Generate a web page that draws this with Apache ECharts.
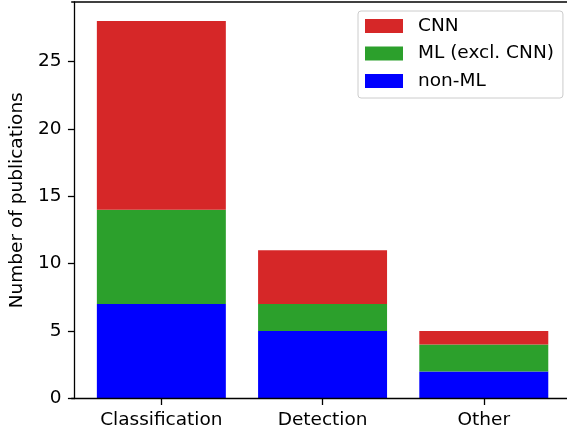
<!DOCTYPE html>
<html>
<head>
<meta charset="utf-8">
<script src="https://cdn.jsdelivr.net/npm/echarts@6/dist/echarts.min.js"></script>
<style>
  html, body { margin: 0; padding: 0; background: #fff; }
  #chart { width: 567px; height: 434px; }
</style>
</head>
<body>
<div id="chart"></div>
<script>
// Publications per task, split by method family
const categories = ['Classification', 'Detection', 'Other'];
const nonML = [7, 5, 2];
const mlExclCNN = [7, 2, 2];
const cnn = [14, 4, 1];
const yTicks = [0, 5, 10, 15, 20, 25];

const FONT = 'DejaVu Sans';
const FS = 18.5;
const LINE_W = 1.3;
// one category band = 162.3 px; bars fill 80% of it
const band = 162.3;
const gridLeft = 77.5, gridTop = 2, gridHeight = 396.5;
const gridWidth = band * categories.length;
const spineLeft = 71.2;               // left spine sits a little outside the first band
const spineBottom = gridTop + gridHeight;

const chart = echarts.init(document.getElementById('chart'), null, { renderer: 'canvas' });
chart.setOption({
  animation: false,
  backgroundColor: '#ffffff',
  grid: { left: gridLeft, top: gridTop, width: gridWidth, height: gridHeight, show: false },
  legend: {
    data: ['CNN', 'ML (excl. CNN)', 'non-ML'],
    orient: 'vertical',
    left: 358,
    top: 11,
    padding: [5, 9, 7, 7],
    itemWidth: 38,
    itemHeight: 14,
    itemGap: 7.5,
    icon: 'rect',
    backgroundColor: '#ffffff',
    borderColor: '#cccccc',
    borderWidth: 1,
    borderRadius: 3,
    textStyle: { fontFamily: FONT, fontSize: FS, lineHeight: 20, color: '#000', padding: [0, 0, 0, 10] }
  },
  xAxis: {
    type: 'category',
    data: categories,
    boundaryGap: true,
    splitLine: { show: false },
    axisLine: { show: false },
    axisTick: { show: true, alignWithLabel: true, length: 6.5, lineStyle: { color: '#000', width: LINE_W } },
    axisLabel: { fontFamily: FONT, fontSize: FS, color: '#000', margin: 12 }
  },
  yAxis: {
    type: 'value',
    min: 0,
    max: 29.4,
    offset: gridLeft - spineLeft,
    name: 'Number of publications',
    nameLocation: 'middle',
    nameGap: 45,
    nameTextStyle: { fontFamily: FONT, fontSize: FS, color: '#000' },
    splitLine: { show: false },
    axisLine: { show: true, lineStyle: { color: '#000', width: LINE_W } },
    axisTick: { show: true, customValues: yTicks, length: 6.5, lineStyle: { color: '#000', width: LINE_W } },
    axisLabel: { customValues: yTicks, fontFamily: FONT, fontSize: FS, color: '#000', margin: 13 }
  },
  graphic: [
    { type: 'line', silent: true, z: 10,
      shape: { x1: spineLeft, y1: gridTop, x2: 567, y2: gridTop },
      style: { stroke: '#000', lineWidth: LINE_W } },
    { type: 'line', silent: true, z: 10,
      shape: { x1: spineLeft, y1: spineBottom, x2: 567, y2: spineBottom },
      style: { stroke: '#000', lineWidth: LINE_W } }
  ],
  series: [
    { name: 'non-ML', type: 'bar', stack: 'pubs', data: nonML, barWidth: '80%',
      itemStyle: { color: '#0000ff' } },
    { name: 'ML (excl. CNN)', type: 'bar', stack: 'pubs', data: mlExclCNN, barWidth: '80%',
      itemStyle: { color: '#2ca02c' } },
    { name: 'CNN', type: 'bar', stack: 'pubs', data: cnn, barWidth: '80%',
      itemStyle: { color: '#d62728' } }
  ]
});
</script>
</body>
</html>
